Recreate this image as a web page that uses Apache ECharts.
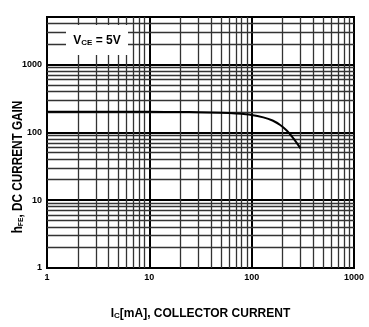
<!DOCTYPE html>
<html>
<head>
<meta charset="utf-8">
<script src="https://cdn.jsdelivr.net/npm/echarts@6/dist/echarts.min.js"></script>
<style>
html,body{margin:0;padding:0;background:#fff;}
#chart{width:369px;height:327px;}
</style>
</head>
<body>
<div id="chart"></div>
<script>
// Collector current (mA) and DC current gain
var icValues  = [1, 5, 10, 20, 30, 50, 70, 100, 130, 160, 190, 220, 250, 270, 300];
var hfeValues = [200, 200, 200, 199, 198, 194, 189, 180, 166, 149, 128, 106, 85, 73, 58];

// Tick labels shown on the axes
var xTickLabels = [1, 10, 100, 1000];
var yTickLabels = [1, 10, 100, 1000];

// Minor grid lines (log decades)
var xMinor = [2,3,4,5,6,7,8,9,20,30,40,50,60,70,80,90,200,300,400,500,600,700,800,900];
var yMinor = [2,3,4,5,6,7,8,9,20,30,40,50,60,70,80,90,200,300,400,500,600,700,800,900,2000,3000,4000];

var FONT = '"Liberation Sans", Arial, sans-serif';

var chart = echarts.init(document.getElementById('chart'), null, {renderer: 'canvas'});

var minorLines = [];
xMinor.forEach(function (v) { minorLines.push({xAxis: v}); });
yMinor.forEach(function (v) { minorLines.push({yAxis: v}); });

var curve = icValues.map(function (x, i) { return [x, hfeValues[i]]; });

chart.setOption({
  animation: false,
  backgroundColor: '#fff',
  grid: {
    left: 47, right: 15, top: 17, bottom: 59,
    show: true, borderColor: '#000', borderWidth: 2, backgroundColor: 'transparent'
  },
  xAxis: {
    type: 'log', logBase: 10, min: 1, max: 1000,
    name: 'I{sub|C}[mA], COLLECTOR CURRENT',
    nameLocation: 'middle', nameGap: 40,
    nameTextStyle: {
      fontFamily: FONT, fontWeight: 'bold', fontSize: 12, color: '#000',
      rich: { sub: {fontFamily: FONT, fontWeight: 'bold', fontSize: 8, color: '#000', verticalAlign: 'bottom', padding: [4, 0, 0, 0]} }
    },
    axisLine: {show: true, lineStyle: {color: '#000', width: 2}},
    axisTick: {show: false},
    axisLabel: {
      fontFamily: FONT, fontWeight: 'bold', fontSize: 9, color: '#000', margin: 5,
      formatter: function (v) { return xTickLabels.indexOf(Math.round(v)) >= 0 ? String(Math.round(v)) : ''; }
    },
    splitLine: {show: true, lineStyle: {color: '#000', width: 2}}
  },
  yAxis: {
    type: 'log', logBase: 10, min: 1, max: 5000,
    axisLine: {show: true, lineStyle: {color: '#000', width: 2}},
    axisTick: {show: false},
    axisLabel: {
      fontFamily: FONT, fontWeight: 'bold', fontSize: 9, color: '#000', margin: 5,
      formatter: function (v) { return yTickLabels.indexOf(Math.round(v)) >= 0 ? String(Math.round(v)) : ''; }
    },
    splitLine: {show: true, lineStyle: {color: '#000', width: 2}}
  },
  series: [
    {
      type: 'line',
      data: [],
      silent: true,
      markLine: {
        silent: true,
        symbol: ['none', 'none'],
        label: {show: false},
        animation: false,
        lineStyle: {color: '#333', width: 1.3, type: 'solid'},
        emphasis: {disabled: true},
        data: minorLines
      },
      z: 1
    },
    {
      type: 'line',
      data: curve,
      smooth: 0.3,
      showSymbol: false,
      lineStyle: {color: '#000', width: 2},
      z: 5
    }
  ],
  graphic: [
    {
      type: 'rect', z: 100,
      shape: {x: 66, y: 25, width: 62, height: 30},
      style: {fill: '#fff'}
    },
    {
      type: 'text', z: 101,
      x: 97, y: 41,
      style: {
        text: 'V{sub|CE} = 5V',
        fontFamily: FONT, fontWeight: 'bold', fontSize: 12, fill: '#000',
        align: 'center', verticalAlign: 'middle',
        rich: { sub: {fontFamily: FONT, fontWeight: 'bold', fontSize: 8, fill: '#000', verticalAlign: 'bottom', padding: [4, 0, 0, 0]} }
      }
    },
    {
      type: 'text', z: 101,
      x: 18, y: 167,
      rotation: Math.PI / 2,
      scaleX: 0.84,
      style: {
        text: 'h{sub|FE}, DC CURRENT GAIN',
        fontFamily: FONT, fontWeight: 'bold', fontSize: 14, fill: '#000',
        align: 'center', verticalAlign: 'middle',
        rich: { sub: {fontFamily: FONT, fontWeight: 'bold', fontSize: 8, fill: '#000', verticalAlign: 'bottom', padding: [4, 0, 0, 0]} }
      }
    }
  ]
});
</script>
</body>
</html>
